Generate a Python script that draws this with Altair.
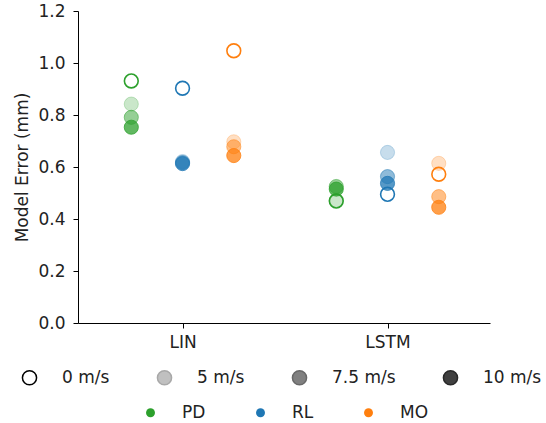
import altair as alt
import pandas as pd

models = ["LIN", "LSTM"]
methods = ["PD", "RL", "MO"]
speeds = ["0 m/s", "5 m/s", "7.5 m/s", "10 m/s"]
method_colors = ["#2ca02c", "#1f77b4", "#ff7f0e"]
speed_alpha = [1.0, 0.25, 0.5, 0.75]
method_offset = [-0.25, 0.0, 0.25]

# model error (mm) per speed [0, 5, 7.5, 10 m/s]
err_lin_pd = [0.931, 0.842, 0.791, 0.753]
err_lin_rl = [0.903, 0.621, 0.617, 0.613]
err_lin_mo = [1.047, 0.697, 0.678, 0.644]
err_lstm_pd = [0.469, 0.472, 0.525, 0.515]
err_lstm_rl = [0.495, 0.656, 0.563, 0.537]
err_lstm_mo = [0.572, 0.614, 0.486, 0.445]

errors = {
    ("LIN", "PD"): err_lin_pd, ("LIN", "RL"): err_lin_rl, ("LIN", "MO"): err_lin_mo,
    ("LSTM", "PD"): err_lstm_pd, ("LSTM", "RL"): err_lstm_rl, ("LSTM", "MO"): err_lstm_mo,
}

rows = []
for mi, m in enumerate(models):
    for ki, k in enumerate(methods):
        for si, s in enumerate(speeds):
            rows.append({
                "model": m, "method": k, "speed": s,
                "xpos": mi + method_offset[ki],
                "error": errors[(m, k)][si],
                "color": method_colors[ki],
                "alpha": speed_alpha[si],
                "open": si == 0,
            })
df = pd.DataFrame(rows)
df_open = df[df["open"]]
df_fill = df[~df["open"]]

label_expr = " : ".join(
    [f"datum.value == {i} ? '{m}'" for i, m in enumerate(models[:-1])] + [f"'{models[-1]}'"]
)

FS = 17

x_enc = alt.X("xpos:Q", scale=alt.Scale(domain=[-0.51, 1.5], nice=False, zero=False),
              axis=alt.Axis(values=list(range(len(models))), labelExpr=label_expr, title=None,
                            grid=False, tickSize=5, labelPadding=6, labelFontSize=FS))
y_enc = alt.Y("error:Q", scale=alt.Scale(domain=[0, 1.2], nice=False),
              axis=alt.Axis(values=[0, 0.2, 0.4, 0.6, 0.8, 1.0, 1.2], format=".1f",
                            title="Model Error (mm)", grid=False, tickSize=5, labelPadding=8,
                            labelFontSize=FS, titleFontSize=FS, titleFontWeight="normal",
                            titlePadding=6))

filled = alt.Chart(df_fill).mark_point(filled=True, shape="circle", size=200, strokeWidth=1,
                                       opacity=1).encode(
    x=x_enc, y=y_enc,
    fill=alt.Fill("color:N", scale=None),
    stroke=alt.Stroke("color:N", scale=None),
    fillOpacity=alt.FillOpacity("alpha:Q", scale=None),
    strokeOpacity=alt.StrokeOpacity("alpha:Q", scale=None),
)
opened = alt.Chart(df_open).mark_point(filled=False, shape="circle", size=190, strokeWidth=1.6,
                                       opacity=1).encode(
    x=x_enc, y=y_enc,
    stroke=alt.Stroke("color:N", scale=None),
)

speed_leg = dict(orient="none", legendX=-57, legendY=358, direction="horizontal",
                 columns=4, title=None, symbolSize=200, symbolStrokeWidth=1.5,
                 labelFontSize=FS, labelOffset=24, columnPadding=44, symbolType="circle")
speed_legend = alt.Chart(pd.DataFrame({"speed": speeds})).transform_filter("false").mark_point(
    filled=True, shape="circle", opacity=1).encode(
    fill=alt.Fill("speed:N", scale=alt.Scale(domain=speeds, range=["white", "#c0c0c0", "#808080", "#404040"]),
                  legend=alt.Legend(**speed_leg)),
    stroke=alt.Stroke("speed:N", scale=alt.Scale(domain=speeds, range=["black", "#a8a8a8", "#686868", "#282828"]),
                      legend=alt.Legend(**speed_leg)),
)
method_legend = alt.Chart(pd.DataFrame({"method": methods})).transform_filter("false").mark_point(
    filled=True, shape="circle", opacity=1).encode(
    color=alt.Color("method:N", scale=alt.Scale(domain=methods, range=method_colors),
                    legend=alt.Legend(orient="none", legendX=64, legendY=393, direction="horizontal",
                                      columns=3, title=None, symbolSize=80, labelFontSize=FS,
                                      labelOffset=23, columnPadding=46, symbolType="circle")),
)

chart = alt.layer(opened, filled, speed_legend, method_legend).resolve_scale(
    fill="independent", stroke="independent"
).properties(
    width=412, height=312,
    autosize=alt.AutoSizeParams(type="none"),
    padding={"left": 78, "top": 11, "right": 56, "bottom": 100},
).configure(font="DejaVu Sans").configure_view(stroke=None).configure_axis(
    domainColor="black", tickColor="black", labelColor="#222222", titleColor="#222222"
).configure_legend(labelColor="#222222")

chart.save("out.html", embed_options={"renderer": "svg", "actions": False})
